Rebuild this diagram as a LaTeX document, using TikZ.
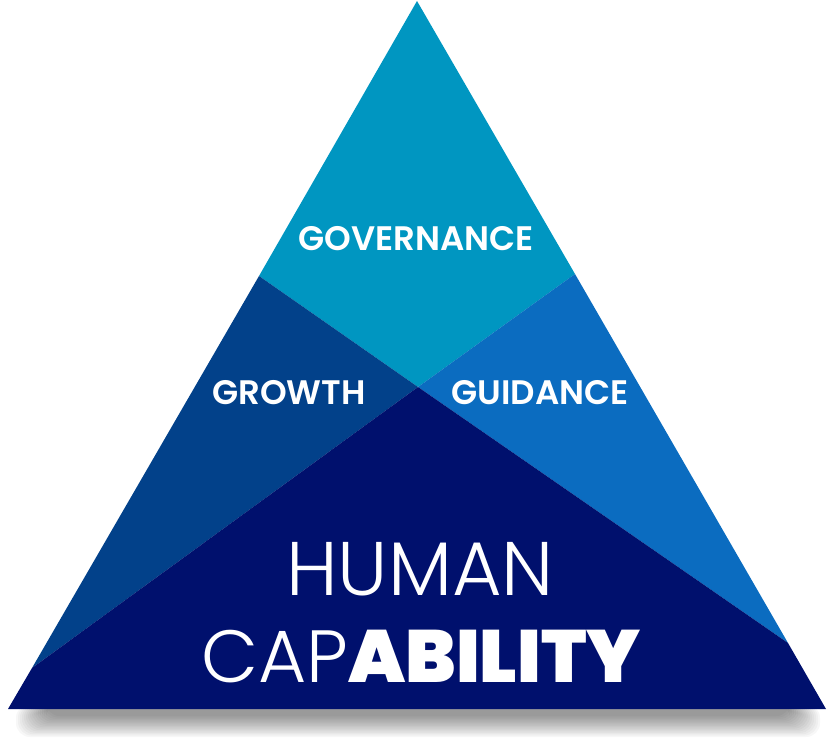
\documentclass[tikz,border=0pt]{standalone}
\usepackage{fontspec}
\usepackage{tikz}
\usetikzlibrary{positioning}
\newfontfamily\labelfont{Poppins SemiBold}
\newfontfamily\thinfont{Poppins Light}
\newfontfamily\heavyfont{Poppins Black}
\definecolor{govteal}{HTML}{0096C1}
\definecolor{growblue}{HTML}{02418A}
\definecolor{guideblue}{HTML}{0B6CC0}
\definecolor{capnavy}{HTML}{00106D}

\begin{document}
\begin{tikzpicture}[x=1pt, y=-1pt,
    part/.style={draw=none},
    lbl/.style={text=white, font=\labelfont\fontsize{34}{34}\selectfont, inner sep=0pt},
    big/.style={text=white, inner sep=0pt, anchor=base}
  ]
    \useasboundingbox (0,0) rectangle (836,744);
    % corners and crossing
    \coordinate (apex) at (417,1);
    \coordinate (bl) at (8,709);
    \coordinate (br) at (826,709);
    \coordinate (mid) at (418,387);
    \coordinate (lup) at (259,276);
    \coordinate (rup) at (575,274);
    \coordinate (llow) at (32,668);
    \coordinate (rlow) at (788,643);
    % shadow
    \foreach \i in {0,...,15}
      \fill[black, opacity=0.03, rounded corners=14pt] (46-\i*2,704) rectangle (790+\i*2,716+\i*1.4);
    % parts
    \fill[part, govteal] (apex) -- (rup) -- (mid) -- (lup) -- cycle;
    \fill[part, growblue] (lup) -- (mid) -- (llow) -- cycle;
    \fill[part, guideblue] (rup) -- (rlow) -- (mid) -- cycle;
    \fill[part, capnavy] (mid) -- (rlow) -- (br) -- (bl) -- (llow) -- cycle;
    % labels
    \node[lbl] (gov) at (416,239) {GOVERNANCE};
    \node[lbl] (grow) at (289,393) {GROWTH};
    \node[lbl] (guide) at (540,393) {GUIDANCE};
    \node[big, font=\thinfont\fontsize{76}{76}\selectfont] (human) at (420,595) {HUMAN};
    \node[big, font=\fontsize{74}{74}\selectfont] (cap) at (421,682) {\thinfont CAP\heavyfont ABILITY};
  \end{tikzpicture}
\end{document}
